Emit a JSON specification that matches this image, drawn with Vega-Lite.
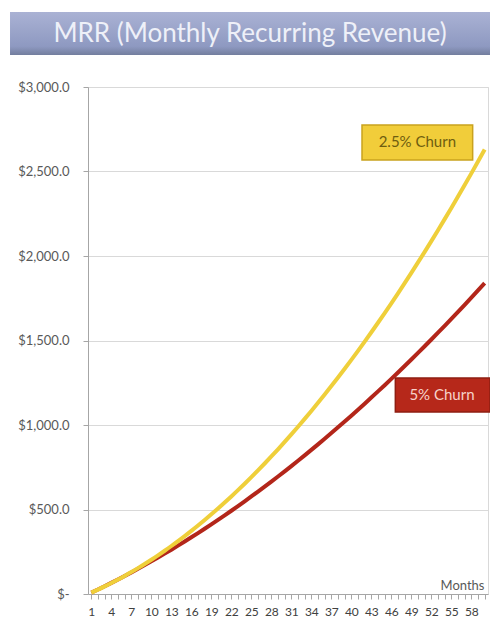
{
  "$schema": "https://vega.github.io/schema/vega-lite/v6.json",
  "padding": {"left": 10, "top": 12, "right": 0, "bottom": 0},
  "background": "white",
  "config": {"font": "Lato", "view": {"stroke": null}},
  "spacing": 25,
  "vconcat": [
    {
      "width": 402,
      "height": 43,
      "data": {"values": [{}]},
      "layer": [
        {
          "mark": {"type": "rect", "clip": false,
            "fill": {"gradient": "linear", "x1": 0, "y1": 0, "x2": 0, "y2": 1,
              "stops": [{"offset": 0, "color": "#aab2d4"}, {"offset": 0.8, "color": "#8e99c1"}, {"offset": 1, "color": "#737e9e"}]}},
          "encoding": {
            "x": {"datum": -0.194, "scale": {"domain": [0, 1], "nice": false, "zero": false}, "axis": null},
            "x2": {"datum": 1},
            "y": {"datum": 0, "scale": {"domain": [0, 1], "nice": false}, "axis": null},
            "y2": {"datum": 1}
          }
        },
        {
          "mark": {"type": "text", "text": "MRR (Monthly Recurring Revenue)", "fontSize": 26, "color": "#eef0f8"},
          "encoding": {
            "x": {"datum": 0.403, "axis": null},
            "y": {"datum": 0.5, "axis": null}
          }
        }
      ]
    },
    {
      "width": 400,
      "height": 507,
      "view": {"stroke": "#d9d9d9"},
      "data": {"values": [
        {"month":1,"c25":8.0,"c5":8.0},{"month":2,"c25":26.0,"c5":26.9},{"month":3,"c25":44.9,"c5":46.2},{"month":4,"c25":64.7,"c5":65.9},{"month":5,"c25":85.4,"c5":86.1},
        {"month":6,"c25":107.1,"c5":106.6},{"month":7,"c25":129.6,"c5":127.6},{"month":8,"c25":153.1,"c5":149.0},{"month":9,"c25":177.4,"c5":170.9},{"month":10,"c25":202.7,"c5":193.1},
        {"month":11,"c25":228.9,"c5":215.8},{"month":12,"c25":256.0,"c5":238.8},{"month":13,"c25":284.0,"c5":262.3},{"month":14,"c25":313.0,"c5":286.3},{"month":15,"c25":342.8,"c5":310.6},
        {"month":16,"c25":373.6,"c5":335.4},{"month":17,"c25":405.2,"c5":360.5},{"month":18,"c25":437.8,"c5":386.1},{"month":19,"c25":471.3,"c5":412.1},{"month":20,"c25":505.7,"c5":438.6},
        {"month":21,"c25":541.0,"c5":465.4},{"month":22,"c25":577.3,"c5":492.7},{"month":23,"c25":614.4,"c5":520.4},{"month":24,"c25":652.5,"c5":548.5},{"month":25,"c25":691.4,"c5":577.0},
        {"month":26,"c25":731.3,"c5":606.0},{"month":27,"c25":772.1,"c5":635.4},{"month":28,"c25":813.8,"c5":665.1},{"month":29,"c25":856.4,"c5":695.3},{"month":30,"c25":899.9,"c5":726.0},
        {"month":31,"c25":944.4,"c5":757.0},{"month":32,"c25":989.7,"c5":788.5},{"month":33,"c25":1036.0,"c5":820.4},{"month":34,"c25":1083.1,"c5":852.7},{"month":35,"c25":1131.2,"c5":885.4},
        {"month":36,"c25":1180.2,"c5":918.5},{"month":37,"c25":1230.1,"c5":952.1},{"month":38,"c25":1280.9,"c5":986.1},{"month":39,"c25":1332.7,"c5":1020.5},{"month":40,"c25":1385.3,"c5":1055.3},
        {"month":41,"c25":1438.9,"c5":1090.5},{"month":42,"c25":1493.3,"c5":1126.2},{"month":43,"c25":1548.7,"c5":1162.3},{"month":44,"c25":1605.0,"c5":1198.8},{"month":45,"c25":1662.2,"c5":1235.7},
        {"month":46,"c25":1720.3,"c5":1273.0},{"month":47,"c25":1779.4,"c5":1310.8},{"month":48,"c25":1839.3,"c5":1348.9},{"month":49,"c25":1900.2,"c5":1387.5},{"month":50,"c25":1961.9,"c5":1426.5},
        {"month":51,"c25":2024.6,"c5":1466.0},{"month":52,"c25":2088.2,"c5":1505.8},{"month":53,"c25":2152.7,"c5":1546.1},{"month":54,"c25":2218.1,"c5":1586.8},{"month":55,"c25":2284.4,"c5":1627.9},
        {"month":56,"c25":2351.7,"c5":1669.4},{"month":57,"c25":2419.8,"c5":1711.3},{"month":58,"c25":2488.9,"c5":1753.7},{"month":59,"c25":2558.8,"c5":1796.5},{"month":60,"c25":2629.7,"c5":1839.7}
      ]},
      "layer": [
        {
          "mark": {"type": "line", "color": "#b3261a", "strokeWidth": 4, "interpolate": "monotone"},
          "encoding": {
            "x": {"field": "month", "type": "quantitative", "title": "Months",
              "scale": {"domain": [0.5, 60.5], "nice": false, "zero": false},
              "axis": {
                "values": [1,2,3,4,5,6,7,8,9,10,11,12,13,14,15,16,17,18,19,20,21,22,23,24,25,26,27,28,29,30,31,32,33,34,35,36,37,38,39,40,41,42,43,44,45,46,47,48,49,50,51,52,53,54,55,56,57,58,59,60],
                "tickCount": 100,
                "labelExpr": "(datum.value - 1) % 3 == 0 ? format(datum.value, 'd') : ''",
                "labelOverlap": false, "labelFlush": false, "labelBound": false, "grid": false,
                "tickSize": 5, "tickColor": "#a6a6a6", "domainColor": "#a6a6a6",
                "labelColor": "#404040", "labelFontSize": 12, "labelPadding": 7,
                "titleFontSize": 13, "titleFontWeight": "normal", "titleColor": "#595959",
                "titleAnchor": "end", "titleAlign": "right", "titleX": 396, "titleY": -15, "titleBaseline": "top"
              }
            },
            "y": {"field": "c5", "type": "quantitative", "title": null,
              "scale": {"domain": [0, 3000], "nice": false},
              "axis": {
                "values": [0, 500, 1000, 1500, 2000, 2500, 3000],
                "tickCount": 20,
                "labelExpr": "datum.value == 0 ? '$-' : '$' + format(datum.value, ',.1f')",
                "labelPadding": 14,
                "tickSize": 5, "tickColor": "#a6a6a6", "domainColor": "#a6a6a6",
                "gridColor": "#d9d9d9", "labelColor": "#595959", "labelFontSize": 13
              }
            }
          }
        },
        {
          "mark": {"type": "line", "color": "#efcf3a", "strokeWidth": 4, "interpolate": "monotone"},
          "encoding": {
            "x": {"field": "month", "type": "quantitative", "title": "Months"},
            "y": {"field": "c25", "type": "quantitative", "title": null}
          }
        },
        {
          "data": {"values": [{}]},
          "mark": {"type": "rect", "fill": "#f1cd3a", "stroke": "#c9a21e", "strokeWidth": 1.5},
          "encoding": {"x": {"datum": 41.6}, "x2": {"datum": 58.2}, "y": {"datum": 2775}, "y2": {"datum": 2568}}
        },
        {
          "data": {"values": [{}]},
          "mark": {"type": "text", "text": "2.5% Churn", "fontSize": 15, "color": "#6e5d10"},
          "encoding": {"x": {"datum": 49.9}, "y": {"datum": 2672}}
        },
        {
          "data": {"values": [{}]},
          "mark": {"type": "rect", "fill": "#b6281a", "stroke": "#8e1e12", "strokeWidth": 1.5},
          "encoding": {"x": {"datum": 46.6}, "x2": {"datum": 60.8}, "y": {"datum": 1278}, "y2": {"datum": 1077}}
        },
        {
          "data": {"values": [{}]},
          "mark": {"type": "text", "text": "5% Churn", "fontSize": 15, "color": "#f6d3ca"},
          "encoding": {"x": {"datum": 53.6}, "y": {"datum": 1177}}
        }
      ]
    }
  ]
}
